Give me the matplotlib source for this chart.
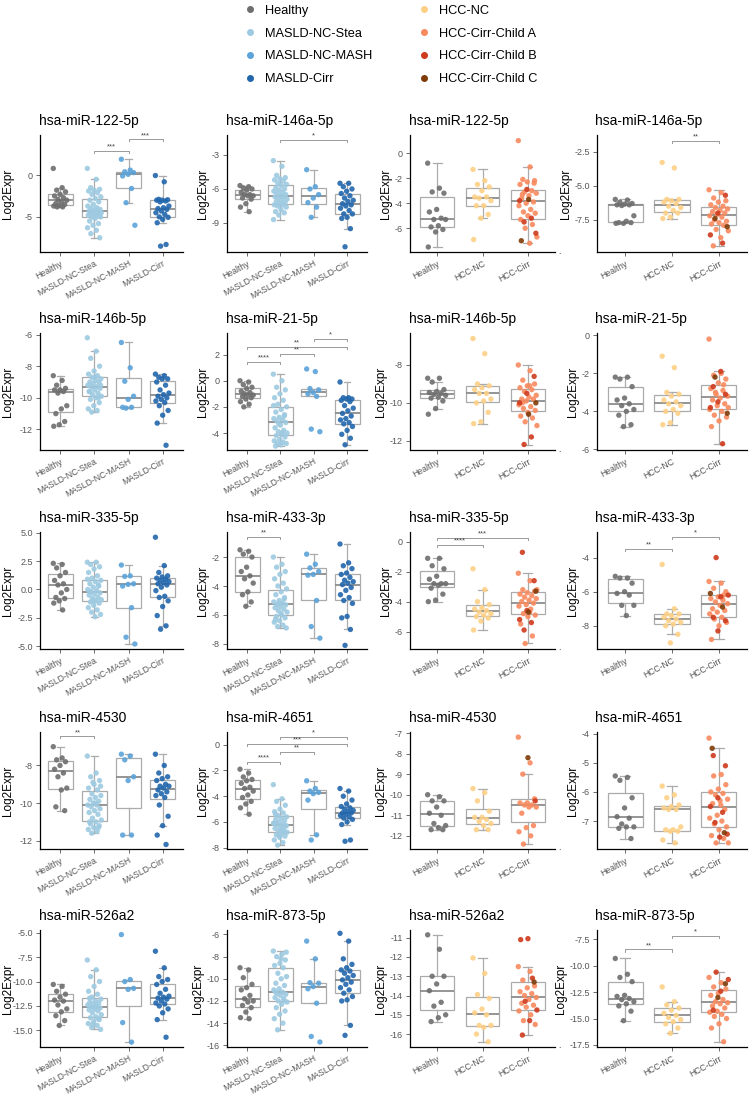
import numpy as np
import matplotlib.pyplot as plt
from matplotlib.lines import Line2D

plt.rcParams['font.family'] = ['Liberation Sans', 'DejaVu Sans']
plt.rcParams['axes.unicode_minus'] = False

masld_names = ['Healthy', 'MASLD-NC-Stea', 'MASLD-NC-MASH', 'MASLD-Cirr']
hcc_names = ['Healthy', 'HCC-NC', 'HCC-Cirr']
legend_labels = ['Healthy', 'MASLD-NC-Stea', 'MASLD-NC-MASH', 'MASLD-Cirr',
                 'HCC-NC', 'HCC-Cirr-Child A', 'HCC-Cirr-Child B', 'HCC-Cirr-Child C']
legend_colors = ['#6e6e6e', '#9ecae1', '#5ba3d9', '#2166ac',
                 '#fdd086', '#f88a5e', '#cf3a1d', '#7f3b08']

# ---- hsa-miR-122-5p
m122_healthy = [0.8, -1.5, -1.8, -2.0, -2.3, -2.5, -2.7, -2.9, -3.0, -3.2, -3.4, -3.5, -3.6, -3.7, -3.8, -3.8]
m122_stea = [0.8, -0.5, -1.5, -1.7, -1.8, -1.9, -2.1, -2.3, -2.6, -2.8, -3.0, -3.2, -3.5, -3.7, -3.9, -4.0,
             -4.1, -4.2, -4.3, -4.3, -4.4, -4.5, -4.5, -4.6, -4.7, -4.8, -4.8, -4.9, -5.0, -5.0, -5.2, -5.5,
             -5.8, -6.0, -6.3, -6.6, -7.0, -7.5]
m122_mash = [1.9, 0.6, 0.4, 0.3, 0.1, -0.1, -1.6, -3.3, -6.0]
m122_cirr = [-0.05, -0.8, -2.9, -2.95, -3.0, -3.0, -3.1, -3.2, -3.7, -3.9, -4.0, -4.1, -4.3, -4.5, -4.7,
             -5.0, -5.05, -5.3, -5.7, -8.3, -8.5]
h122_healthy = [-0.8, -2.8, -3.1, -3.2, -4.5, -4.7, -5.2, -5.3, -5.3, -5.8, -5.9, -6.1, -6.3, -7.5]
h122_nc = [-1.3, -2.2, -2.5, -2.7, -3.0, -3.5, -3.5, -3.6, -3.8, -4.2, -4.2, -4.9, -5.2, -6.9]
h122_cirr_a = [1.0, -1.1, -2.1, -2.2, -2.3, -2.5, -3.0, -3.1, -3.2, -3.4, -3.6, -3.9, -4.0, -4.2, -4.5,
               -4.7, -4.8, -5.0, -5.3, -5.7, -6.0, -6.7, -7.2, -3.3, -2.4]
h122_cirr_b = [-2.9, -3.8, -5.2, -5.5, -6.4]
h122_cirr_c = [-3.7, -7.0]

# ---- hsa-miR-146a-5p
m146a_healthy = [-5.7, -5.8, -5.9, -6.0, -6.1, -6.3, -6.5, -6.5, -6.6, -6.6, -6.8, -6.9, -7.3, -7.6, -8.0]
m146a_stea = [-3.5, -4.0, -4.8, -5.0, -5.1, -5.2, -5.3, -5.5, -5.6, -5.7, -5.9, -6.0, -6.1, -6.2, -6.3,
              -6.4, -6.5, -6.6, -6.7, -6.7, -6.8, -6.9, -7.0, -7.1, -7.2, -7.3, -7.4, -7.4, -7.5, -7.6,
              -7.8, -8.0, -8.1, -8.3, -8.7]
m146a_mash = [-4.3, -5.8, -6.0, -6.5, -6.8, -7.2, -7.6, -8.5]
m146a_cirr = [-5.5, -5.5, -5.8, -6.0, -6.2, -6.4, -6.6, -6.8, -7.0, -7.1, -7.3, -7.4, -7.5, -7.7, -7.9,
              -8.2, -8.2, -8.5, -8.6, -9.5, -11.1]
h146a_healthy = [-6.0, -6.05, -6.2, -6.3, -6.35, -6.4, -6.4, -6.45, -7.2, -7.6, -7.7, -7.7, -7.75, -7.75]
h146a_nc = [-3.3, -3.7, -6.0, -6.0, -6.1, -6.2, -6.3, -6.5, -6.6, -6.8, -7.0, -7.0, -7.3, -7.4]
h146a_cirr_a = [-5.3, -5.5, -5.9, -6.1, -6.2, -6.4, -6.5, -6.6, -6.7, -6.8, -6.9, -7.0, -7.1, -7.2, -7.3,
                -7.5, -7.6, -7.7, -7.8, -7.9, -8.2, -8.3, -8.8, -9.4]
h146a_cirr_b = [-5.7, -7.0, -8.6, -9.2]
h146a_cirr_c = [-7.4, -8.0]

# ---- hsa-miR-146b-5p
m146b_healthy = [-8.6, -8.9, -9.2, -9.4, -9.5, -9.5, -9.6, -9.7, -10.5, -10.7, -11.0, -11.5, -11.7, -11.8]
m146b_stea = [-6.2, -7.05, -7.5, -8.0, -8.3, -8.5, -8.6, -8.7, -8.8, -8.9, -9.0, -9.0, -9.1, -9.2, -9.3,
              -9.3, -9.4, -9.5, -9.6, -9.7, -9.8, -9.9, -10.0, -10.1, -10.3, -10.5, -10.7, -10.8, -10.9,
              -9.2, -8.7, -9.6, -10.0]
m146b_mash = [-6.5, -8.1, -8.95, -9.9, -10.1, -10.6, -10.6, -10.65]
m146b_cirr = [-8.5, -8.6, -8.7, -8.8, -8.8, -9.0, -9.2, -9.5, -9.7, -9.8, -9.9, -10.0, -10.1, -10.2,
              -10.3, -10.5, -10.8, -11.1, -11.6, -13.0]
h146b_healthy = [-8.7, -8.7, -8.9, -9.3, -9.4, -9.45, -9.5, -9.55, -9.6, -9.7, -9.75, -9.9, -10.3, -10.6]
h146b_nc = [-6.6, -7.4, -9.0, -9.1, -9.2, -9.3, -9.5, -9.5, -9.8, -9.9, -10.0, -10.5, -11.0, -11.1]
h146b_cirr_a = [-8.0, -8.3, -8.8, -9.0, -9.1, -9.2, -9.3, -9.4, -9.6, -9.7, -9.8, -9.8, -9.9, -10.1,
                -10.2, -10.3, -10.4, -10.5, -10.7, -10.8, -11.0, -11.2, -9.1, -10.0]
h146b_cirr_b = [-8.6, -9.5, -10.0, -11.8, -12.2]
h146b_cirr_c = [-10.0, -10.6]

# ---- hsa-miR-21-5p
m21_healthy = [0.0, -0.1, -0.3, -0.5, -0.6, -0.8, -0.9, -1.0, -1.1, -1.1, -1.2, -1.3, -1.4, -1.6, -1.8, -2.0]
m21_stea = [0.5, 0.0, -0.5, -0.7, -1.0, -1.3, -1.5, -1.8, -2.0, -2.2, -2.4, -2.6, -2.8, -2.9, -3.0, -3.1,
            -3.2, -3.4, -3.6, -3.8, -3.9, -4.0, -4.1, -4.2, -4.3, -4.5, -4.6, -4.7, -4.8, -4.8, -4.9,
            -5.0, -2.7, -3.3, -1.9, -4.0]
m21_mash = [0.9, 0.7, -0.6, -0.7, -0.9, -1.0, -1.2, -3.7, -3.9]
m21_cirr = [-0.1, -1.3, -1.3, -1.4, -1.4, -1.5, -1.6, -1.9, -2.1, -2.3, -2.5, -2.7, -2.9, -3.0, -3.2,
            -3.3, -3.5, -3.8, -4.1, -4.4, -4.9]
h21_healthy = [-2.2, -2.2, -2.3, -2.7, -3.3, -3.4, -3.6, -3.7, -3.9, -4.0, -4.2, -4.7, -4.8]
h21_nc = [-1.1, -1.7, -3.0, -3.1, -3.2, -3.4, -3.5, -3.6, -3.7, -3.9, -4.0, -4.1, -4.6, -4.7]
h21_cirr_a = [-0.2, -2.0, -2.1, -2.3, -2.5, -2.8, -2.9, -3.0, -3.2, -3.3, -3.4, -3.6, -3.7, -3.9, -4.0,
              -4.2, -4.3, -4.5, -4.8, -2.6, -3.1, -3.8]
h21_cirr_b = [-1.9, -2.7, -3.1, -3.5, -3.8, -5.7]
h21_cirr_c = [-2.2, -4.1]

# ---- hsa-miR-335-5p
m335_healthy = [2.3, 2.2, 1.9, 1.5, 1.2, 0.8, 0.5, 0.4, 0.0, -0.3, -0.7, -0.8, -1.0, -1.2, -1.8]
m335_stea = [2.4, 2.4, 2.2, 2.0, 1.8, 1.5, 1.2, 1.0, 0.8, 0.7, 0.5, 0.3, 0.2, 0.0, -0.1, -0.2, -0.3,
             -0.4, -0.5, -0.7, -0.8, -0.9, -1.0, -1.1, -1.2, -1.4, -1.6, -1.8, -2.0, -2.2, -2.4, -0.2,
             0.4, -1.0, 0.9]
m335_mash = [2.15, 1.2, 1.15, 0.5, 0.45, 0.3, -1.6, -4.2, -4.8]
m335_cirr = [4.6, 2.1, 1.5, 1.2, 1.1, 1.0, 0.9, 0.8, 0.7, 0.6, 0.5, 0.4, 0.2, -0.1, -0.6, -0.7, -1.0,
             -1.5, -2.3, -3.2, -3.5]
h335_healthy = [-1.1, -1.1, -1.6, -1.8, -2.3, -2.5, -2.8, -2.8, -2.8, -2.9, -3.1, -3.5, -3.9, -4.0]
h335_nc = [-1.8, -3.2, -4.0, -4.2, -4.4, -4.5, -4.6, -4.7, -4.8, -4.9, -5.0, -5.1, -5.3, -5.9]
h335_cirr_a = [-2.1, -2.6, -3.2, -3.3, -3.4, -3.5, -3.6, -3.7, -3.8, -3.9, -4.0, -4.1, -4.2, -4.3, -4.5,
               -4.8, -4.9, -5.0, -5.5, -6.3, -6.8, -3.2, -4.7]
h335_cirr_b = [-0.7, -2.6, -4.6, -5.2, -5.4, -5.9]
h335_cirr_c = [-3.3, -4.7]

# ---- hsa-miR-433-3p
m433_healthy = [-1.5, -1.6, -1.8, -2.0, -2.7, -3.0, -3.3, -3.5, -3.8, -4.4, -4.6, -5.1, -5.4]
m433_stea = [-2.0, -2.5, -2.7, -3.0, -3.2, -3.5, -3.8, -4.0, -4.2, -4.4, -4.6, -4.8, -5.0, -5.1, -5.2,
             -5.3, -5.3, -5.4, -5.5, -5.6, -5.7, -5.8, -6.0, -6.1, -6.2, -6.4, -6.5, -6.7, -6.8, -6.9,
             -5.9, -6.3, -4.9, -5.2]
m433_mash = [-1.8, -2.5, -2.75, -3.0, -3.2, -3.25, -5.0, -6.8, -7.6]
m433_cirr = [-1.1, -2.4, -2.6, -2.8, -3.1, -3.2, -3.4, -3.6, -3.7, -3.8, -3.9, -4.1, -4.3, -4.6, -4.8,
             -5.0, -5.2, -6.1, -6.2, -7.0, -8.1]
h433_healthy = [-5.1, -5.2, -5.2, -5.5, -6.0, -6.1, -6.2, -6.8, -6.8, -7.4]
h433_nc = [-4.4, -7.0, -7.3, -7.3, -7.4, -7.5, -7.6, -7.7, -7.8, -7.9, -8.0, -8.5, -9.0]
h433_cirr_a = [-5.4, -5.5, -5.8, -6.0, -6.3, -6.4, -6.5, -6.6, -6.7, -6.8, -7.0, -7.1, -7.2, -7.3, -7.5,
               -7.6, -7.8, -8.0, -8.8, -6.2]
h433_cirr_b = [-4.0, -6.2, -6.3, -7.5, -7.7, -8.3]
h433_cirr_c = [-6.1, -6.9]

# ---- hsa-miR-4530
m4530_healthy = [-7.0, -7.6, -7.7, -7.8, -8.0, -8.2, -8.4, -8.6, -9.2, -9.3, -10.2, -10.4]
m4530_stea = [-7.5, -8.4, -8.6, -8.8, -9.0, -9.2, -9.3, -9.5, -9.6, -9.7, -9.8, -9.9, -10.0, -10.1, -10.1,
              -10.2, -10.3, -10.4, -10.5, -10.6, -10.8, -10.9, -11.0, -11.1, -11.2, -11.3, -11.4, -11.5,
              -11.6, -9.1, -10.0, -11.0, -11.3, -8.9]
m4530_mash = [-7.4, -7.5, -7.7, -8.6, -8.8, -11.7, -11.7]
m4530_cirr = [-7.4, -8.0, -8.4, -8.6, -8.7, -8.8, -9.0, -9.1, -9.1, -9.2, -9.3, -9.4, -9.5, -9.6, -9.7,
              -10.1, -10.7, -11.2, -11.7, -12.2]
h4530_healthy = [-10.0, -10.1, -10.3, -10.3, -10.6, -10.9, -11.0, -11.4, -11.5, -11.6, -11.7, -11.7]
h4530_nc = [-9.7, -9.9, -10.3, -10.8, -11.1, -11.1, -11.2, -11.3, -11.4, -11.5, -11.7, -11.7]
h4530_cirr_a = [-7.2, -8.45, -9.0, -10.2, -10.4, -10.4, -10.5, -10.5, -10.6, -10.6, -10.9, -11.5, -11.6,
                -11.8, -12.0, -12.4]
h4530_cirr_b = [-10.3]
h4530_cirr_c = [-8.2]

# ---- hsa-miR-4651
m4651_healthy = [-1.9, -2.2, -2.5, -2.7, -2.8, -3.0, -3.3, -3.4, -3.6, -3.9, -4.1, -4.4, -4.6, -4.9, -5.4]
m4651_stea = [-3.1, -4.2, -4.4, -4.7, -5.0, -5.2, -5.3, -5.5, -5.6, -5.7, -5.8, -5.9, -6.0, -6.1, -6.2,
              -6.2, -6.3, -6.4, -6.5, -6.6, -6.7, -6.8, -6.9, -7.0, -7.1, -7.2, -7.4, -7.6, -7.8, -6.3,
              -6.6, -5.4, -6.8, -7.0, -6.1]
m4651_mash = [-2.8, -3.4, -3.6, -3.7, -3.8, -4.3, -7.0, -7.4]
m4651_cirr = [-3.4, -3.6, -4.0, -4.3, -4.6, -4.8, -4.9, -5.0, -5.1, -5.2, -5.3, -5.3, -5.4, -5.5, -5.6,
              -5.7, -5.8, -6.0, -6.2, -7.4, -7.5]
h4651_healthy = [-5.45, -5.5, -5.6, -6.2, -6.55, -6.85, -6.9, -7.1, -7.2, -7.2, -7.25, -7.6]
h4651_nc = [-5.8, -6.1, -6.2, -6.45, -6.5, -6.55, -6.6, -6.6, -7.2, -7.3, -7.3, -7.35, -7.35, -7.65, -7.75]
h4651_cirr_a = [-4.15, -5.4, -5.45, -5.75, -5.9, -6.0, -6.05, -6.1, -6.25, -6.3, -6.4, -6.6, -6.8, -6.9,
                -7.0, -7.1, -7.2, -7.3, -7.5, -7.6, -7.75, -7.75, -6.45]
h4651_cirr_b = [-4.75, -5.1, -6.2, -6.5, -6.7, -7.05, -7.45, -7.55]
h4651_cirr_c = [-4.5, -7.4]

# ---- hsa-miR-526a2
m526_healthy = [-10.3, -10.5, -11.0, -11.3, -11.6, -11.9, -12.0, -12.4, -12.8, -13.1, -13.5, -14.0, -14.5]
m526_stea = [-7.8, -8.8, -9.5, -10.0, -10.5, -11.0, -11.3, -11.6, -11.8, -12.0, -12.1, -12.2, -12.3,
             -12.4, -12.5, -12.6, -12.7, -12.8, -12.9, -13.0, -13.2, -13.4, -13.6, -13.7, -13.9, -14.1,
             -14.3, -14.5, -14.7, -14.9, -12.6, -11.7, -13.8, -14.4]
m526_mash = [-5.2, -9.8, -10.0, -10.7, -10.8, -14.2, -16.2]
m526_cirr = [-6.9, -8.6, -9.5, -9.8, -10.0, -10.3, -10.8, -11.2, -11.5, -11.6, -11.7, -11.8, -12.0,
             -12.2, -12.3, -12.5, -12.8, -13.2, -13.9, -15.7]
h526_healthy = [-10.85, -11.6, -13.0, -13.0, -13.4, -13.75, -14.35, -14.55, -15.0, -15.15, -15.35]
h526_nc = [-12.05, -12.85, -13.95, -14.15, -14.7, -14.9, -15.0, -15.55, -15.55, -15.65, -16.0, -16.4]
h526_cirr_a = [-12.5, -12.75, -13.2, -13.5, -13.6, -13.8, -13.9, -14.0, -14.1, -14.2, -14.4, -14.5,
               -14.6, -14.8, -15.0, -15.3, -15.5]
h526_cirr_b = [-11.05, -11.1, -13.1, -14.3, -14.75, -15.3, -16.05]
h526_cirr_c = [-13.3]

# ---- hsa-miR-873-5p
m873_healthy = [-9.0, -9.2, -9.9, -10.5, -10.8, -11.0, -11.5, -11.8, -12.0, -12.1, -12.4, -12.6, -13.0,
                -13.5, -13.6]
m873_stea = [-7.5, -7.8, -8.0, -8.3, -8.6, -8.8, -9.0, -9.5, -9.8, -10.0, -10.4, -10.6, -10.9, -11.0,
             -11.2, -11.3, -11.4, -11.5, -11.7, -11.8, -12.0, -12.1, -12.3, -12.6, -12.9, -13.2, -13.6,
             -14.0, -14.6, -7.6, -8.2, -11.2, -12.0]
m873_mash = [-6.6, -8.2, -10.35, -10.4, -10.7, -10.9, -12.2, -15.2, -15.7]
m873_cirr = [-5.9, -6.6, -8.2, -8.7, -9.0, -9.2, -9.3, -9.5, -9.7, -9.9, -10.1, -10.3, -10.5, -10.8,
             -11.0, -11.3, -11.6, -11.9, -12.0, -14.2, -15.1]
h873_healthy = [-9.3, -10.8, -11.1, -11.5, -12.8, -12.9, -13.1, -13.2, -13.4, -13.6, -13.8, -14.3, -15.2]
h873_nc = [-12.0, -13.4, -13.7, -14.0, -14.2, -14.5, -14.7, -14.9, -15.1, -15.3, -15.5, -15.9, -16.4]
h873_cirr_a = [-11.1, -11.6, -12.0, -12.2, -12.6, -12.8, -13.2, -13.4, -13.5, -13.6, -13.8, -14.0, -14.3,
               -14.4, -14.6, -14.8, -15.0, -15.5, -15.9, -17.2]
h873_cirr_b = [-10.6, -11.3, -12.4, -14.2]
h873_cirr_c = [-11.7, -13.0]

C = dict(zip(legend_labels, legend_colors))


def masld(h, s, m, c):
    return [[(h, C['Healthy'])], [(s, C['MASLD-NC-Stea'])],
            [(m, C['MASLD-NC-MASH'])], [(c, C['MASLD-Cirr'])]]


def hcc(h, n, a, b, c):
    return [[(h, C['Healthy'])], [(n, C['HCC-NC'])],
            [(a, C['HCC-Cirr-Child A']), (b, C['HCC-Cirr-Child B']), (c, C['HCC-Cirr-Child C'])]]


# (title, groups, ylim, yticks, brackets)
panels = [
    ('hsa-miR-122-5p', masld(m122_healthy, m122_stea, m122_mash, m122_cirr), (-9.2, 4.8), [-5, 0],
     [(2, 3, 2.92, '***'), (3, 4, 4.28, '***')]),
    ('hsa-miR-146a-5p', masld(m146a_healthy, m146a_stea, m146a_mash, m146a_cirr), (-11.56, -1.24), [-9, -6, -3],
     [(2, 4, -1.68, '*')]),
    ('hsa-miR-122-5p', hcc(h122_healthy, h122_nc, h122_cirr_a, h122_cirr_b, h122_cirr_c), (-7.9, 1.45),
     [-6, -4, -2, 0], []),
    ('hsa-miR-146a-5p', hcc(h146a_healthy, h146a_nc, h146a_cirr_a, h146a_cirr_b, h146a_cirr_c), (-9.85, -1.29),
     [-7.5, -5.0, -2.5], [(2, 3, -1.7, '**')]),

    ('hsa-miR-146b-5p', masld(m146b_healthy, m146b_stea, m146b_mash, m146b_cirr), (-13.3, -5.9), [-12, -10, -8, -6],
     []),
    ('hsa-miR-21-5p', masld(m21_healthy, m21_stea, m21_mash, m21_cirr), (-5.3, 3.65), [-4, -2, 0, 2],
     [(1, 2, 1.42, '****'), (2, 3, 2.08, '**'), (1, 4, 2.58, '**'), (3, 4, 3.19, '*')]),
    ('hsa-miR-146b-5p', hcc(h146b_healthy, h146b_nc, h146b_cirr_a, h146b_cirr_b, h146b_cirr_c), (-12.49, -6.31),
     [-12, -10, -8], []),
    ('hsa-miR-21-5p', hcc(h21_healthy, h21_nc, h21_cirr_a, h21_cirr_b, h21_cirr_c), (-6.03, 0.12),
     [-6, -4, -2, 0], []),

    ('hsa-miR-335-5p', masld(m335_healthy, m335_stea, m335_mash, m335_cirr), (-5.24, 5.06),
     [-5.0, -2.5, 0.0, 2.5, 5.0], []),
    ('hsa-miR-433-3p', masld(m433_healthy, m433_stea, m433_mash, m433_cirr), (-8.35, -0.27), [-8, -6, -4, -2],
     [(1, 2, -0.61, '**')]),
    ('hsa-miR-335-5p', hcc(h335_healthy, h335_nc, h335_cirr_a, h335_cirr_b, h335_cirr_c), (-7.17, 0.66),
     [-6, -4, -2, 0], [(1, 2, -0.22, '****'), (1, 3, 0.29, '***')]),
    ('hsa-miR-433-3p', hcc(h433_healthy, h433_nc, h433_cirr_a, h433_cirr_b, h433_cirr_c), (-9.36, -2.5),
     [-8, -6, -4], [(1, 2, -3.48, '**'), (2, 3, -2.8, '*')]),

    ('hsa-miR-4530', masld(m4530_healthy, m4530_stea, m4530_mash, m4530_cirr), (-12.44, -6.22), [-12, -10, -8],
     [(1, 2, -6.45, '**')]),
    ('hsa-miR-4651', masld(m4651_healthy, m4651_stea, m4651_mash, m4651_cirr), (-8.1, 0.99), [-8, -6, -4, -2, 0],
     [(1, 2, -1.35, '****'), (2, 3, -0.57, '**'), (1, 4, 0.08, '***'), (2, 4, 0.6, '*')]),
    ('hsa-miR-4530', hcc(h4530_healthy, h4530_nc, h4530_cirr_a, h4530_cirr_b, h4530_cirr_c), (-12.64, -6.95),
     [-12, -11, -10, -9, -8, -7], []),
    ('hsa-miR-4651', hcc(h4651_healthy, h4651_nc, h4651_cirr_a, h4651_cirr_b, h4651_cirr_c), (-7.96, -3.94),
     [-7, -6, -5, -4], []),

    ('hsa-miR-526a2', masld(m526_healthy, m526_stea, m526_mash, m526_cirr), (-16.7, -4.73),
     [-15.0, -12.5, -10.0, -7.5, -5.0], []),
    ('hsa-miR-873-5p', masld(m873_healthy, m873_stea, m873_mash, m873_cirr), (-16.15, -5.6),
     [-16, -14, -12, -10, -8, -6], []),
    ('hsa-miR-526a2', hcc(h526_healthy, h526_nc, h526_cirr_a, h526_cirr_b, h526_cirr_c), (-16.67, -10.6),
     [-16, -15, -14, -13, -12, -11], []),
    ('hsa-miR-873-5p', hcc(h873_healthy, h873_nc, h873_cirr_a, h873_cirr_b, h873_cirr_c), (-17.7, -6.6),
     [-17.5, -15.0, -12.5, -10.0, -7.5], [(1, 2, -8.44, '**'), (2, 3, -7.19, '*')]),
]

W, H = 749, 1099
fig = plt.figure(figsize=(W / 100, H / 100), dpi=100)

col_left = [40, 227, 410, 597]
col_width = [143, 140, 145, 150]
row_top = [135, 333, 532, 732, 930]
ax_h = 117

box_col = '#ababab'
tick_col = '#555555'


def draw_panel(ax, names, groups, title, ylim, yticks, brackets):
    for k, parts in enumerate(groups, start=1):
        vals = np.concatenate([np.asarray(v, float) for v, c in parts])
        cols = sum([[c] * len(v) for v, c in parts], [])
        ax.boxplot(vals, positions=[k], widths=0.75, whis=1.5, showfliers=False,
                   patch_artist=True, capwidths=0.2,
                   boxprops=dict(facecolor='white', edgecolor=box_col, linewidth=0.9),
                   medianprops=dict(color='#8c8c8c', linewidth=1.3),
                   whiskerprops=dict(color=box_col, linewidth=0.9),
                   capprops=dict(color=box_col, linewidth=0.9), zorder=1)
        jit = ((np.arange(len(vals)) * 0.618034) % 1 - 0.5) * 0.42
        ax.scatter(k + jit, vals, c=cols, s=15, alpha=0.9, linewidths=0, zorder=3)

    span = ylim[1] - ylim[0]
    for i, j, y, lab in brackets:
        d = span * 0.018
        ax.plot([i, i, j, j], [y - d, y, y, y - d], color='#9a9a9a', lw=0.7, zorder=2)
        ax.text((i + j) / 2, y + span * 0.003, lab, ha='center', va='bottom',
                fontsize=5.5, color='#444444')

    ax.set_xlim(0.4, len(groups) + 0.6)
    ax.set_ylim(*ylim)
    ax.set_xticks(range(1, len(groups) + 1))
    ax.set_xticklabels(names, rotation=28, ha='right', rotation_mode='anchor',
                       fontsize=6.2, color=tick_col)
    ax.set_yticks(yticks)
    fmt = '{:.1f}' if any(t != int(t) for t in yticks) else '{:.0f}'
    ax.set_yticklabels([fmt.format(t) for t in yticks], fontsize=6.5, color=tick_col)
    ax.tick_params(axis='both', length=3, width=0.6, color='#555555', pad=2)
    for s in ['top', 'right']:
        ax.spines[s].set_visible(False)
    for s in ['left', 'bottom']:
        ax.spines[s].set_linewidth(0.9)
    ax.set_ylabel('Log2Expr', fontsize=8.5, labelpad=2)
    ax.set_title(title, loc='left', fontsize=10, pad=7, x=-0.01)


for idx, (title, groups, ylim, yticks, brackets) in enumerate(panels):
    r, c = divmod(idx, 4)
    ax = fig.add_axes([col_left[c] / W, 1 - (row_top[r] + ax_h) / H,
                       col_width[c] / W, ax_h / H])
    names = masld_names if len(groups) == 4 else hcc_names
    draw_panel(ax, names, groups, title, ylim, yticks, brackets)
    if c == 0:
        # keep the first column's label inside the figure edge
        ax.yaxis.set_label_coords((14 - col_left[0]) / col_width[0], 0.5)
    if c == 2:
        ax.text(1.02, 0, '.', transform=ax.transAxes, fontsize=6, ha='left', va='center')

handles = [Line2D([], [], marker='o', ls='', color=col, markersize=4) for col in legend_colors]
fig.legend(handles, legend_labels, ncol=2, loc='upper left',
           bbox_to_anchor=(236 / W, 1 + 3 / H), frameon=False, fontsize=9.2,
           handlelength=1.0, handletextpad=0.7, columnspacing=3.5, labelspacing=0.85,
           borderpad=0.1)

fig.savefig('out.png', dpi=100)
